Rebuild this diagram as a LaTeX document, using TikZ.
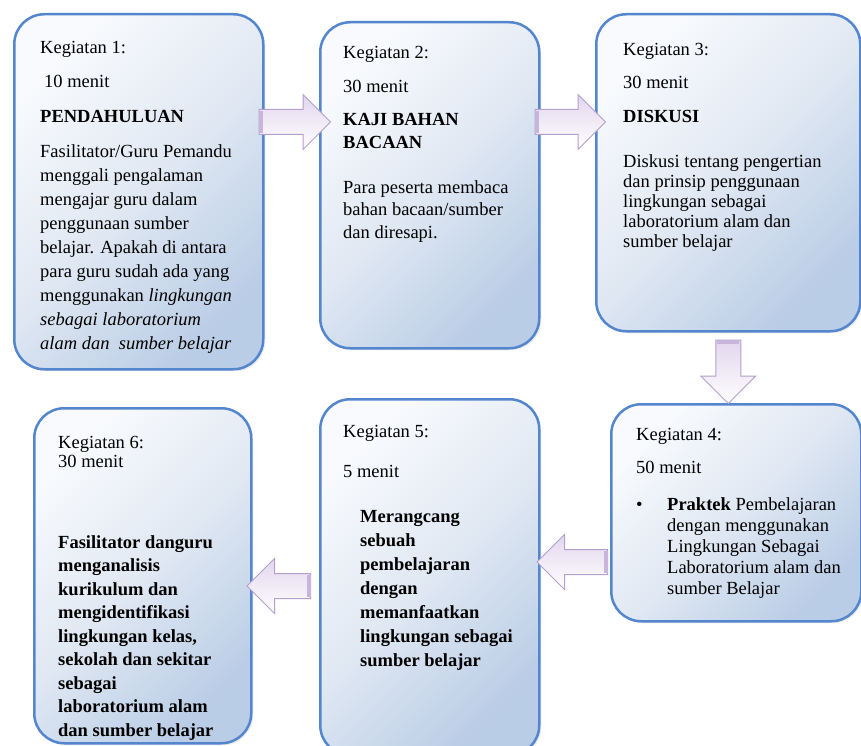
\documentclass[tikz,border=0pt]{standalone}
\usepackage{fontspec}
\setmainfont{Liberation Serif}
\usetikzlibrary{shapes.arrows, calc, shadows}
\definecolor{tepi}{RGB}{84,134,205}
\definecolor{terang}{RGB}{248,250,253}
\definecolor{tengah}{RGB}{224,232,243}
\definecolor{biru}{RGB}{186,205,230}
\definecolor{ungu}{RGB}{180,160,204}
\definecolor{lila}{RGB}{226,214,238}
\definecolor{pita}{RGB}{200,182,218}

\begin{document}
\begin{tikzpicture}[x=1pt, y=-1pt,
	kotak/.style={rectangle, draw=tepi, line width=2.5pt, rounded corners=30pt, anchor=north west, top color=terang, bottom color=biru, middle color=tengah, shading angle=45, drop shadow={opacity=0.15, shadow xshift=2pt, shadow yshift=-2pt}},
	teks/.style={anchor=north west, inner sep=0pt, align=left, font=\fontsize{18.5}{24}\selectfont},
	panah/.style={single arrow, draw=ungu, line width=1pt, top color=lila, bottom color=white, inner xsep=0pt, inner ysep=12pt, single arrow head extend=15pt, sloped, allow upside down, pos=0, anchor=tail}]
	\useasboundingbox (0,0) rectangle (861,746);
	\node(K1) at (13,13)[kotak, minimum width=249, minimum height=355]{};
	\node(K2) at (319,21)[kotak, minimum width=219, minimum height=326]{};
	\node(K3) at (595,13)[kotak, minimum width=264, minimum height=317]{};
	\node(K4) at (610,403)[kotak, minimum width=250, minimum height=217]{};
	\node(K5) at (319,398)[kotak, minimum width=219, minimum height=356]{};
	\node(K6) at (33,407)[kotak, minimum width=217, minimum height=335]{};
	\node(T1) at (40,38)[teks]{\rule{0pt}{15pt}Kegiatan 1:\\[10pt]
		\hspace*{4pt}10 menit\\[11pt]
		\textbf{PENDAHULUAN}\\[11pt]
		Fasilitator/Guru Pemandu\\
		menggali pengalaman\\
		mengajar guru dalam\\
		penggunaan sumber\\
		belajar. Apakah di antara\\
		para guru sudah ada yang\\
		menggunakan \textit{lingkungan}\\
		\textit{sebagai laboratorium}\\
		\textit{alam dan\ \ sumber belajar}};
	\node(T2) at (343,43)[teks, font=\fontsize{18.5}{23}\selectfont]{\rule{0pt}{15pt}Kegiatan 2:\\[11pt]
		30 menit\\[10pt]
		\textbf{KAJI BAHAN}\\
		\textbf{BACAAN}\\[22pt]
		Para peserta membaca\\[-1pt]
		bahan bacaan/sumber\\
		dan diresapi.};
	\node(T3) at (623,40)[teks, font=\fontsize{18.5}{20}\selectfont]{\rule{0pt}{15pt}Kegiatan 3:\\[13pt]
		30 menit\\[14pt]
		\textbf{DISKUSI}\\[25pt]
		Diskusi tentang pengertian\\
		dan prinsip penggunaan\\
		lingkungan sebagai\\
		laboratorium alam dan\\
		sumber belajar};
	\node(T4) at (636,425)[teks, font=\fontsize{18.5}{21}\selectfont]{\rule{0pt}{15pt}Kegiatan 4:\\[12pt]
		50 menit\\[16pt]
		\makebox[31pt][l]{\textbullet}\textbf{Praktek} Pembelajaran\\
		\hspace*{31pt}dengan menggunakan\\
		\hspace*{31pt}Lingkungan Sebagai\\
		\hspace*{31pt}Laboratorium alam dan\\
		\hspace*{31pt}sumber Belajar};
	\node(T5) at (343,422)[teks]{\rule{0pt}{15pt}Kegiatan 5:\\[16pt]
		5 menit\\[21pt]
		\hspace*{17pt}\textbf{Merangcang}\\
		\hspace*{17pt}\textbf{sebuah}\\
		\hspace*{17pt}\textbf{pembelajaran}\\
		\hspace*{17pt}\textbf{dengan}\\
		\hspace*{17pt}\textbf{memanfaatkan}\\
		\hspace*{17pt}\textbf{lingkungan sebagai}\\
		\hspace*{17pt}\textbf{sumber belajar}};
	\node(T6) at (58,433)[teks, font=\fontsize{18.5}{23.5}\selectfont]{\rule{0pt}{15pt}Kegiatan 6:\\[-4.5pt]
		30 menit\\[57.5pt]
		\textbf{Fasilitator danguru}\\
		\textbf{menganalisis}\\
		\textbf{kurikulum dan}\\
		\textbf{mengidentifikasi}\\
		\textbf{lingkungan kelas,}\\
		\textbf{sekolah dan sekitar}\\
		\textbf{sebagai}\\
		\textbf{laboratorium alam}\\
		\textbf{dan sumber belajar}};
	\coordinate(A1) at ($(K1.north east)+(-6,109)$);
	\coordinate(B1) at ($(K2.north west)+(11,101)$);
	\coordinate(A2) at ($(K2.north east)+(-6,101)$);
	\coordinate(B2) at ($(K3.north west)+(10,109)$);
	\coordinate(A3) at ($(K3.south)+(0,7)$);
	\coordinate(B3) at (K3.south |- K4.north);
	\coordinate(A4) at ($(K4.north west)+(-2,159)$);
	\coordinate(B4) at ($(K5.north east)+(-3,164)$);
	\coordinate(A5) at ($(K5.north west)+(-8,188)$);
	\coordinate(B5) at ($(K6.north east)+(-5,179)$);
	\path let \p1=($(B1)-(A1)$), \n1={veclen(\x1,\y1)} in (A1) -- (B1) node(P1)[panah, minimum height=\n1]{};
	\path let \p1=($(B2)-(A2)$), \n1={veclen(\x1,\y1)} in (A2) -- (B2) node(P2)[panah, minimum height=\n1]{};
	\path let \p1=($(B3)-(A3)$), \n1={veclen(\x1,\y1)} in (A3) -- (B3) node(P3)[panah, minimum height=\n1]{};
	\path let \p1=($(B4)-(A4)$), \n1={veclen(\x1,\y1)} in (A4) -- (B4) node(P4)[panah, minimum height=\n1]{};
	\path let \p1=($(B5)-(A5)$), \n1={veclen(\x1,\y1)} in (A5) -- (B5) node(P5)[panah, minimum height=\n1]{};
	\draw[pita, line width=22pt] (A1) -- ($(A1)!4pt!(B1)$);
	\draw[pita, line width=22pt] (A2) -- ($(A2)!4pt!(B2)$);
	\draw[pita, line width=22pt] (A3) -- ($(A3)!4pt!(B3)$);
	\draw[pita, line width=22pt] (A4) -- ($(A4)!4pt!(B4)$);
	\draw[pita, line width=22pt] (A5) -- ($(A5)!4pt!(B5)$);
\end{tikzpicture}
\end{document}
